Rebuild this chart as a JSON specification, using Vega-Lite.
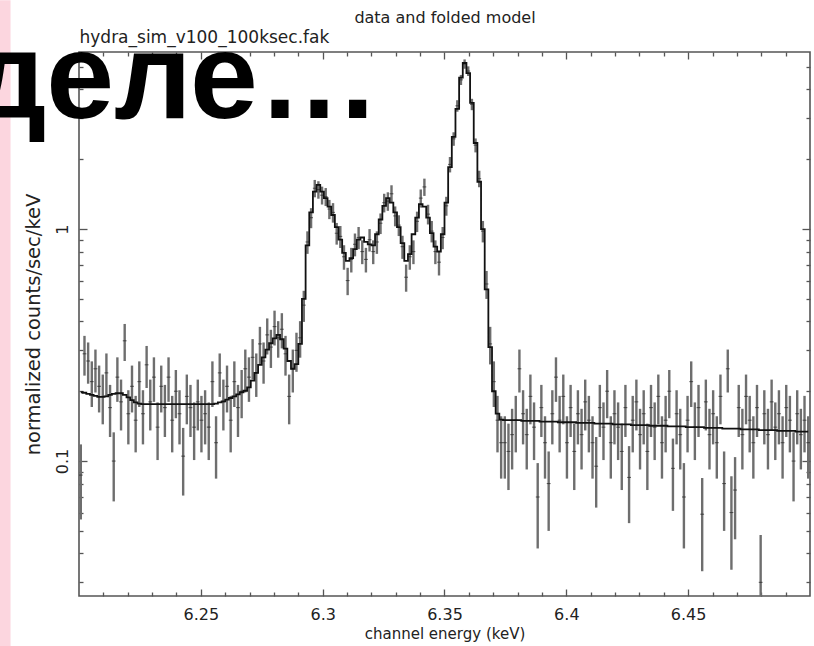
{
  "$schema": "https://vega.github.io/schema/vega-lite/v6.json",
  "width": 731,
  "height": 544,
  "autosize": "none",
  "padding": {"left": 79, "top": 52, "right": 4, "bottom": 50},
  "background": "white",
  "datasets": {
    "spectrum": [
      {"e":6.20075,"m":0.198,"v":0.087,"s":0.031},
      {"e":6.20225,"m":0.197,"v":0.29,"s":0.0565},
      {"e":6.20375,"m":0.195,"v":0.27,"s":0.0545},
      {"e":6.20525,"m":0.193,"v":0.22,"s":0.049},
      {"e":6.20675,"m":0.191,"v":0.25,"s":0.0525},
      {"e":6.20825,"m":0.189,"v":0.21,"s":0.048},
      {"e":6.20975,"m":0.189,"v":0.19,"s":0.046},
      {"e":6.21125,"m":0.19,"v":0.24,"s":0.051},
      {"e":6.21275,"m":0.193,"v":0.17,"s":0.043},
      {"e":6.21425,"m":0.195,"v":0.10,"s":0.033},
      {"e":6.21575,"m":0.196,"v":0.23,"s":0.05},
      {"e":6.21725,"m":0.196,"v":0.18,"s":0.0445},
      {"e":6.21875,"m":0.193,"v":0.33,"s":0.06},
      {"e":6.22025,"m":0.188,"v":0.16,"s":0.042},
      {"e":6.22175,"m":0.183,"v":0.21,"s":0.048},
      {"e":6.22325,"m":0.179,"v":0.15,"s":0.041},
      {"e":6.22475,"m":0.177,"v":0.22,"s":0.049},
      {"e":6.22625,"m":0.176,"v":0.16,"s":0.042},
      {"e":6.22775,"m":0.176,"v":0.26,"s":0.0535},
      {"e":6.22925,"m":0.176,"v":0.18,"s":0.0445},
      {"e":6.23075,"m":0.176,"v":0.23,"s":0.05},
      {"e":6.23225,"m":0.176,"v":0.14,"s":0.039},
      {"e":6.23375,"m":0.176,"v":0.21,"s":0.048},
      {"e":6.23525,"m":0.176,"v":0.17,"s":0.043},
      {"e":6.23675,"m":0.176,"v":0.23,"s":0.05},
      {"e":6.23825,"m":0.176,"v":0.15,"s":0.041},
      {"e":6.23975,"m":0.176,"v":0.20,"s":0.047},
      {"e":6.24125,"m":0.176,"v":0.16,"s":0.042},
      {"e":6.24275,"m":0.176,"v":0.105,"s":0.034},
      {"e":6.24425,"m":0.176,"v":0.19,"s":0.046},
      {"e":6.24575,"m":0.176,"v":0.17,"s":0.043},
      {"e":6.24725,"m":0.176,"v":0.14,"s":0.039},
      {"e":6.24875,"m":0.176,"v":0.18,"s":0.0445},
      {"e":6.25025,"m":0.176,"v":0.15,"s":0.041},
      {"e":6.25175,"m":0.176,"v":0.16,"s":0.042},
      {"e":6.25325,"m":0.176,"v":0.14,"s":0.039},
      {"e":6.25475,"m":0.176,"v":0.22,"s":0.049},
      {"e":6.25625,"m":0.177,"v":0.12,"s":0.036},
      {"e":6.25775,"m":0.179,"v":0.24,"s":0.051},
      {"e":6.25925,"m":0.181,"v":0.18,"s":0.0445},
      {"e":6.26075,"m":0.184,"v":0.21,"s":0.048},
      {"e":6.26225,"m":0.187,"v":0.15,"s":0.041},
      {"e":6.26375,"m":0.19,"v":0.22,"s":0.049},
      {"e":6.26525,"m":0.194,"v":0.17,"s":0.043},
      {"e":6.26675,"m":0.198,"v":0.20,"s":0.047},
      {"e":6.26825,"m":0.201,"v":0.25,"s":0.0525},
      {"e":6.26975,"m":0.208,"v":0.23,"s":0.05},
      {"e":6.27125,"m":0.222,"v":0.28,"s":0.0555},
      {"e":6.27275,"m":0.24,"v":0.24,"s":0.051},
      {"e":6.27425,"m":0.26,"v":0.32,"s":0.059},
      {"e":6.27575,"m":0.28,"v":0.27,"s":0.0545},
      {"e":6.27725,"m":0.302,"v":0.35,"s":0.062},
      {"e":6.27875,"m":0.322,"v":0.31,"s":0.058},
      {"e":6.28025,"m":0.338,"v":0.38,"s":0.065},
      {"e":6.28175,"m":0.35,"v":0.34,"s":0.061},
      {"e":6.28325,"m":0.335,"v":0.37,"s":0.064},
      {"e":6.28475,"m":0.305,"v":0.29,"s":0.0565},
      {"e":6.28625,"m":0.27,"v":0.19,"s":0.046},
      {"e":6.28775,"m":0.25,"v":0.25,"s":0.0525},
      {"e":6.28925,"m":0.262,"v":0.30,"s":0.0575},
      {"e":6.29075,"m":0.32,"v":0.34,"s":0.061},
      {"e":6.29225,"m":0.5,"v":0.47,"s":0.072},
      {"e":6.29375,"m":0.85,"v":0.88,"s":0.098},
      {"e":6.29525,"m":1.18,"v":1.12,"s":0.111},
      {"e":6.29675,"m":1.45,"v":1.50,"s":0.129},
      {"e":6.29825,"m":1.55,"v":1.48,"s":0.128},
      {"e":6.29975,"m":1.45,"v":1.40,"s":0.124},
      {"e":6.30125,"m":1.36,"v":1.38,"s":0.123},
      {"e":6.30275,"m":1.25,"v":1.22,"s":0.116},
      {"e":6.30425,"m":1.15,"v":1.18,"s":0.114},
      {"e":6.30575,"m":1.02,"v":0.96,"s":0.103},
      {"e":6.30725,"m":0.9,"v":0.93,"s":0.101},
      {"e":6.30875,"m":0.79,"v":0.76,"s":0.092},
      {"e":6.31025,"m":0.73,"v":0.60,"s":0.081},
      {"e":6.31175,"m":0.75,"v":0.74,"s":0.09},
      {"e":6.31325,"m":0.82,"v":0.86,"s":0.097},
      {"e":6.31475,"m":0.9,"v":0.92,"s":0.101},
      {"e":6.31625,"m":0.92,"v":0.80,"s":0.094},
      {"e":6.31775,"m":0.88,"v":0.74,"s":0.09},
      {"e":6.31925,"m":0.86,"v":0.90,"s":0.1},
      {"e":6.32075,"m":0.85,"v":0.80,"s":0.094},
      {"e":6.32225,"m":0.95,"v":0.88,"s":0.098},
      {"e":6.32375,"m":1.1,"v":1.06,"s":0.108},
      {"e":6.32525,"m":1.26,"v":1.30,"s":0.12},
      {"e":6.32675,"m":1.36,"v":1.32,"s":0.121},
      {"e":6.32825,"m":1.3,"v":1.42,"s":0.125},
      {"e":6.32975,"m":1.18,"v":1.14,"s":0.112},
      {"e":6.33125,"m":1.02,"v":1.04,"s":0.107},
      {"e":6.33275,"m":0.87,"v":0.84,"s":0.096},
      {"e":6.33425,"m":0.73,"v":0.62,"s":0.083},
      {"e":6.33575,"m":0.78,"v":0.76,"s":0.092},
      {"e":6.33725,"m":0.95,"v":0.80,"s":0.094},
      {"e":6.33875,"m":1.12,"v":1.08,"s":0.109},
      {"e":6.34025,"m":1.28,"v":1.36,"s":0.122},
      {"e":6.34175,"m":1.25,"v":1.52,"s":0.13},
      {"e":6.34325,"m":1.12,"v":1.16,"s":0.113},
      {"e":6.34475,"m":0.96,"v":0.98,"s":0.104},
      {"e":6.34625,"m":0.84,"v":0.80,"s":0.094},
      {"e":6.34775,"m":0.8,"v":0.72,"s":0.089},
      {"e":6.34925,"m":0.95,"v":0.92,"s":0.101},
      {"e":6.35075,"m":1.3,"v":1.26,"s":0.118},
      {"e":6.35225,"m":1.85,"v":1.90,"s":0.145},
      {"e":6.35375,"m":2.5,"v":2.45,"s":0.164},
      {"e":6.35525,"m":3.3,"v":3.40,"s":0.194},
      {"e":6.35675,"m":4.5,"v":4.40,"s":0.22},
      {"e":6.35825,"m":5.2,"v":5.15,"s":0.238},
      {"e":6.35975,"m":4.7,"v":4.80,"s":0.23},
      {"e":6.36125,"m":3.5,"v":3.45,"s":0.195},
      {"e":6.36275,"m":2.35,"v":2.30,"s":0.159},
      {"e":6.36425,"m":1.6,"v":1.65,"s":0.135},
      {"e":6.36575,"m":1.0,"v":0.98,"s":0.104},
      {"e":6.36725,"m":0.55,"v":0.58,"s":0.08},
      {"e":6.36875,"m":0.31,"v":0.32,"s":0.059},
      {"e":6.37025,"m":0.2,"v":0.22,"s":0.049},
      {"e":6.37175,"m":0.16,"v":0.15,"s":0.041},
      {"e":6.37325,"m":0.151,"v":0.12,"s":0.036},
      {"e":6.37475,"m":0.150,"v":0.12,"s":0.036},
      {"e":6.37625,"m":0.150,"v":0.11,"s":0.035},
      {"e":6.37775,"m":0.150,"v":0.13,"s":0.038},
      {"e":6.37925,"m":0.150,"v":0.15,"s":0.041},
      {"e":6.38075,"m":0.150,"v":0.25,"s":0.0525},
      {"e":6.38225,"m":0.149,"v":0.16,"s":0.042},
      {"e":6.38375,"m":0.149,"v":0.13,"s":0.038},
      {"e":6.38525,"m":0.149,"v":0.19,"s":0.046},
      {"e":6.38675,"m":0.149,"v":0.14,"s":0.039},
      {"e":6.38825,"m":0.149,"v":0.07,"s":0.028},
      {"e":6.38975,"m":0.148,"v":0.17,"s":0.043},
      {"e":6.39125,"m":0.148,"v":0.12,"s":0.036},
      {"e":6.39275,"m":0.148,"v":0.08,"s":0.03},
      {"e":6.39425,"m":0.148,"v":0.16,"s":0.042},
      {"e":6.39575,"m":0.148,"v":0.23,"s":0.05},
      {"e":6.39725,"m":0.147,"v":0.15,"s":0.041},
      {"e":6.39875,"m":0.147,"v":0.19,"s":0.046},
      {"e":6.40025,"m":0.147,"v":0.12,"s":0.036},
      {"e":6.40175,"m":0.147,"v":0.17,"s":0.043},
      {"e":6.40325,"m":0.147,"v":0.11,"s":0.035},
      {"e":6.40475,"m":0.146,"v":0.16,"s":0.042},
      {"e":6.40625,"m":0.146,"v":0.13,"s":0.038},
      {"e":6.40775,"m":0.146,"v":0.18,"s":0.0445},
      {"e":6.40925,"m":0.146,"v":0.15,"s":0.041},
      {"e":6.41075,"m":0.146,"v":0.12,"s":0.036},
      {"e":6.41225,"m":0.145,"v":0.095,"s":0.032},
      {"e":6.41375,"m":0.145,"v":0.17,"s":0.043},
      {"e":6.41525,"m":0.145,"v":0.14,"s":0.039},
      {"e":6.41675,"m":0.145,"v":0.20,"s":0.047},
      {"e":6.41825,"m":0.145,"v":0.12,"s":0.036},
      {"e":6.41975,"m":0.144,"v":0.16,"s":0.042},
      {"e":6.42125,"m":0.144,"v":0.14,"s":0.039},
      {"e":6.42275,"m":0.144,"v":0.11,"s":0.035},
      {"e":6.42425,"m":0.144,"v":0.17,"s":0.043},
      {"e":6.42575,"m":0.144,"v":0.085,"s":0.031},
      {"e":6.42725,"m":0.143,"v":0.15,"s":0.041},
      {"e":6.42875,"m":0.143,"v":0.18,"s":0.0445},
      {"e":6.43025,"m":0.143,"v":0.13,"s":0.038},
      {"e":6.43175,"m":0.143,"v":0.16,"s":0.042},
      {"e":6.43325,"m":0.143,"v":0.11,"s":0.035},
      {"e":6.43475,"m":0.142,"v":0.17,"s":0.043},
      {"e":6.43625,"m":0.142,"v":0.14,"s":0.039},
      {"e":6.43775,"m":0.142,"v":0.19,"s":0.046},
      {"e":6.43925,"m":0.142,"v":0.12,"s":0.036},
      {"e":6.44075,"m":0.142,"v":0.15,"s":0.041},
      {"e":6.44225,"m":0.141,"v":0.20,"s":0.047},
      {"e":6.44375,"m":0.141,"v":0.093,"s":0.032},
      {"e":6.44525,"m":0.141,"v":0.16,"s":0.042},
      {"e":6.44675,"m":0.141,"v":0.13,"s":0.038},
      {"e":6.44825,"m":0.141,"v":0.07,"s":0.028},
      {"e":6.44975,"m":0.140,"v":0.15,"s":0.041},
      {"e":6.45125,"m":0.140,"v":0.22,"s":0.049},
      {"e":6.45275,"m":0.140,"v":0.14,"s":0.039},
      {"e":6.45425,"m":0.140,"v":0.17,"s":0.043},
      {"e":6.45575,"m":0.140,"v":0.059,"s":0.0255},
      {"e":6.45725,"m":0.139,"v":0.18,"s":0.0445},
      {"e":6.45875,"m":0.139,"v":0.13,"s":0.038},
      {"e":6.46025,"m":0.139,"v":0.16,"s":0.042},
      {"e":6.46175,"m":0.139,"v":0.12,"s":0.036},
      {"e":6.46325,"m":0.139,"v":0.19,"s":0.046},
      {"e":6.46475,"m":0.138,"v":0.08,"s":0.03},
      {"e":6.46625,"m":0.138,"v":0.25,"s":0.0525},
      {"e":6.46775,"m":0.138,"v":0.06,"s":0.026},
      {"e":6.46925,"m":0.138,"v":0.075,"s":0.029},
      {"e":6.47075,"m":0.138,"v":0.17,"s":0.043},
      {"e":6.47225,"m":0.137,"v":0.13,"s":0.038},
      {"e":6.47375,"m":0.137,"v":0.19,"s":0.046},
      {"e":6.47525,"m":0.137,"v":0.15,"s":0.041},
      {"e":6.47675,"m":0.137,"v":0.12,"s":0.036},
      {"e":6.47825,"m":0.137,"v":0.17,"s":0.043},
      {"e":6.47975,"m":0.136,"v":0.03,"s":0.018},
      {"e":6.48125,"m":0.136,"v":0.16,"s":0.042},
      {"e":6.48275,"m":0.136,"v":0.13,"s":0.038},
      {"e":6.48425,"m":0.136,"v":0.18,"s":0.0445},
      {"e":6.48575,"m":0.136,"v":0.14,"s":0.039},
      {"e":6.48725,"m":0.135,"v":0.16,"s":0.042},
      {"e":6.48875,"m":0.135,"v":0.12,"s":0.036},
      {"e":6.49025,"m":0.135,"v":0.17,"s":0.043},
      {"e":6.49175,"m":0.135,"v":0.15,"s":0.041},
      {"e":6.49325,"m":0.135,"v":0.10,"s":0.033},
      {"e":6.49475,"m":0.134,"v":0.16,"s":0.042},
      {"e":6.49625,"m":0.134,"v":0.13,"s":0.038},
      {"e":6.49775,"m":0.134,"v":0.15,"s":0.041},
      {"e":6.49925,"m":0.134,"v":0.12,"s":0.036}
    ]
  },
  "config": {
    "font": "DejaVu Sans",
    "view": {"stroke": "#555", "strokeWidth": 1.6},
    "axis": {
      "grid": false,
      "domain": false,
      "minExtent": 0,
      "maxExtent": 200,
      "tickColor": "#555",
      "tickWidth": 1.3,
      "labelFont": "DejaVu Sans",
      "labelFontSize": 16,
      "labelColor": "#222",
      "titleFont": "DejaVu Sans",
      "titleFontWeight": "normal",
      "titleColor": "#222"
    }
  },
  "resolve": {"axis": {"x": "independent", "y": "independent"}},
  "layer": [
    {
      "description": "slide edge strip",
      "data": {"values": [{}]},
      "mark": {"type": "rect", "color": "#fcd6df"},
      "encoding": {
        "x": {"datum": 6.16758, "type": "quantitative", "axis": null, "scale": {"domain": [6.2, 6.5], "nice": false, "zero": false}},
        "x2": {"datum": 6.1719},
        "y": {"datum": 9.7, "type": "quantitative", "axis": null, "scale": {"type": "log", "domain": [0.0262, 5.8], "nice": false}},
        "y2": {"datum": 0.0159}
      }
    },
    {
      "data": {"name": "spectrum"},
      "mark": {"type": "errorbar", "color": "#6e6e6e", "thickness": 2.4, "clip": true},
      "encoding": {
        "x": {
          "field": "e", "type": "quantitative",
          "scale": {"domain": [6.2, 6.5], "nice": false, "zero": false},
          "axis": {
            "orient": "bottom",
            "values": [6.25, 6.3, 6.35, 6.4, 6.45],
            "format": "~g",
            "tickSize": -7,
            "labelPadding": 17,
            "title": "channel energy (keV)",
            "titleFontSize": 15,
            "titlePadding": 4
          }
        },
        "y": {
          "field": "v", "type": "quantitative",
          "scale": {"type": "log", "domain": [0.0262, 5.8], "nice": false},
          "axis": {
            "orient": "left",
            "values": [0.1, 1],
            "format": "~g",
            "tickSize": -8,
            "labelAngle": -90,
            "labelAlign": "center",
            "labelBaseline": "alphabetic",
            "labelPadding": 20,
            "title": "normalized counts/sec/keV",
            "titleFontSize": 19.5,
            "titlePadding": 11
          }
        },
        "yError": {"field": "s"}
      }
    },
    {
      "data": {"name": "spectrum"},
      "mark": {"type": "tick", "orient": "horizontal", "size": 3.8, "thickness": 1.1, "color": "#2a2a2a", "clip": true},
      "encoding": {
        "x": {
          "field": "e", "type": "quantitative",
          "scale": {"domain": [6.2, 6.5], "nice": false, "zero": false},
          "axis": {
            "orient": "bottom",
            "values": [6.21, 6.22, 6.23, 6.24, 6.26, 6.27, 6.28, 6.29, 6.31, 6.32, 6.33, 6.34, 6.36, 6.37, 6.38, 6.39, 6.41, 6.42, 6.43, 6.44, 6.46, 6.47, 6.48, 6.49],
            "tickSize": -4,
            "labels": false,
            "title": null
          }
        },
        "y": {
          "field": "v", "type": "quantitative",
          "scale": {"type": "log", "domain": [0.0262, 5.8], "nice": false},
          "axis": {
            "orient": "left",
            "values": [0.03, 0.04, 0.05, 0.06, 0.07, 0.08, 0.09, 0.2, 0.3, 0.4, 0.5, 0.6, 0.7, 0.8, 0.9, 2, 3, 4, 5],
            "tickSize": -4,
            "labels": false,
            "title": null
          }
        }
      }
    },
    {
      "data": {"name": "spectrum"},
      "mark": {"type": "line", "interpolate": "step", "color": "#111", "strokeWidth": 1.8, "clip": true},
      "encoding": {
        "x": {
          "field": "e", "type": "quantitative",
          "scale": {"domain": [6.2, 6.5], "nice": false, "zero": false},
          "axis": {
            "orient": "top",
            "values": [6.25, 6.3, 6.35, 6.4, 6.45],
            "tickSize": -7,
            "labels": false,
            "title": "hydra_sim_v100_100ksec.fak",
            "titleFontSize": 17,
            "titleAnchor": "start",
            "titleAlign": "left",
            "titleBaseline": "alphabetic",
            "titlePadding": 9
          }
        },
        "y": {
          "field": "m", "type": "quantitative",
          "scale": {"type": "log", "domain": [0.0262, 5.8], "nice": false},
          "axis": {
            "orient": "right",
            "values": [0.1, 1],
            "tickSize": -8,
            "labels": false,
            "title": null
          }
        }
      }
    },
    {
      "description": "slide heading fragment over the plot",
      "data": {"values": [{}]},
      "mark": {"type": "text", "text": "деле…", "font": "Liberation Sans", "fontWeight": "bold", "fontSize": 122, "align": "right", "baseline": "alphabetic", "color": "#000"},
      "encoding": {
        "x": {
          "datum": 6.3235, "type": "quantitative",
          "scale": {"domain": [6.2, 6.5], "nice": false, "zero": false},
          "axis": {
            "orient": "top",
            "values": [6.21, 6.22, 6.23, 6.24, 6.26, 6.27, 6.28, 6.29, 6.31, 6.32, 6.33, 6.34, 6.36, 6.37, 6.38, 6.39, 6.41, 6.42, 6.43, 6.44, 6.46, 6.47, 6.48, 6.49],
            "tickSize": -4,
            "labels": false,
            "title": "data and folded model",
            "titleFontSize": 16,
            "titleAnchor": "middle",
            "titleAlign": "center",
            "titleBaseline": "alphabetic",
            "titlePadding": 29
          }
        },
        "y": {
          "datum": 3.0, "type": "quantitative",
          "scale": {"type": "log", "domain": [0.0262, 5.8], "nice": false},
          "axis": {
            "orient": "right",
            "values": [0.03, 0.04, 0.05, 0.06, 0.07, 0.08, 0.09, 0.2, 0.3, 0.4, 0.5, 0.6, 0.7, 0.8, 0.9, 2, 3, 4, 5],
            "tickSize": -4,
            "labels": false,
            "title": null
          }
        }
      }
    }
  ]
}
